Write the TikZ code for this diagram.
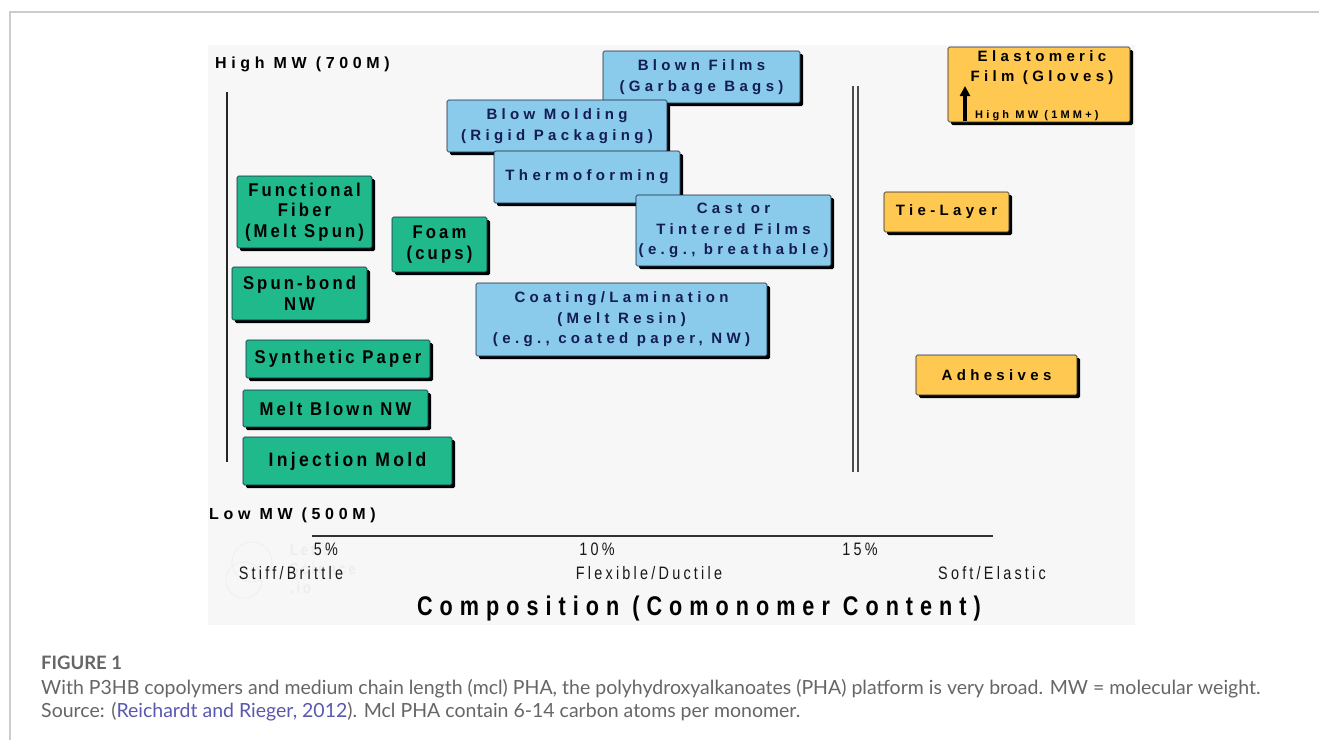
\documentclass[tikz,border=0pt]{standalone}
\usepackage{fontspec}
\setmainfont{Liberation Sans}
\newfontfamily\boxf[LetterSpace=29]{Liberation Sans}
\newfontfamily\gboxf[LetterSpace=17,FakeStretch=0.9]{Liberation Sans}
\newfontfamily\axf[LetterSpace=18,FakeStretch=0.8]{Liberation Sans}
\newfontfamily\compf[LetterSpace=26,FakeStretch=0.8]{Liberation Sans}
\newfontfamily\capf{Lato}
\usetikzlibrary{shadows,arrows.meta}
\definecolor{panel}{HTML}{F7F7F7}
\definecolor{gfill}{HTML}{20B98C}
\definecolor{bfill}{HTML}{8ACAEA}
\definecolor{yfill}{HTML}{FFC851}
\definecolor{edge}{HTML}{14203A}
\definecolor{navy}{HTML}{141C55}
\definecolor{capgray}{HTML}{666666}
\definecolor{linkc}{HTML}{5A58B0}
\tikzset{
  pbox/.style={draw=edge, line width=0.6pt, rounded corners=1.5pt, inner sep=0pt, align=center,
    drop shadow={shadow xshift=3pt, shadow yshift=-3pt, fill=black, opacity=1},
    font=\boxf\bfseries\fontsize{15}{20.5}\selectfont},
  gbox/.style={pbox, fill=gfill, text=black, font=\gboxf\bfseries\fontsize{18.5}{20.5}\selectfont},
  bbox/.style={pbox, fill=bfill, text=navy},
  ybox/.style={pbox, fill=yfill, text=black},
  mwlab/.style={anchor=west, inner sep=0pt, font=\boxf\bfseries\fontsize{16}{18}\selectfont},
  axlab/.style={inner sep=0pt, font=\axf\fontsize{18}{20}\selectfont, text=black!90},
  caplab/.style={anchor=base west, inner sep=0pt, text=capgray, font=\capf\fontsize{19.5}{22}\selectfont}
}
\newcommand\mybox[7]{\node[#1, minimum width={#5-#3-3}, minimum height={#6-#4-3}] (#2) at ({(#3+#5-3)/2},{(#4+#6-3)/2}) {#7};}
\begin{document}
\begin{tikzpicture}[x=1pt,y=-1pt]
\useasboundingbox (0,0) rectangle (1319,740);
\fill[white] (0,0) rectangle (1319,740);
\draw[black!20, line width=1.2pt] (10,740) -- (10,12) -- (1319,12);
\fill[panel] (208,45) rectangle (1135,625);
% watermark
\draw[black!6, line width=1pt] (252,562) circle (20) (244,580) circle (18);
\node[text=black!7, font=\axf\bfseries\fontsize{16}{19}\selectfont, align=left, inner sep=0pt, anchor=north west] (wm) at (290,544) {Let's\\Science\\.io};
% axes
\node[mwlab] (hmw) at (215,64) {High MW (700M)};
\node[mwlab] (lmw) at (209,515) {Low MW (500M)};
\coordinate (vt) at (227,92); \coordinate (vb) at (227,462);
\draw[black!85, line width=1.4pt] (vt) -- (vb);
\coordinate (d1t) at (853,86); \coordinate (d1b) at (853,472);
\coordinate (d2t) at (858,86); \coordinate (d2b) at (858,472);
\draw[black!70, line width=1.2pt] (d1t) -- (d1b) (d2t) -- (d2b);
\coordinate (hl) at (312,536); \coordinate (hr) at (993,536);
\draw[black!80, line width=2pt] (hl) -- (hr);
% green
\mybox{gbox}{ff}{237}{176}{375}{251}{Functional\\Fiber\\(Melt Spun)}
\mybox{gbox}{foam}{392}{217}{490}{275}{Foam\\(cups)}
\mybox{gbox}{spun}{232}{267}{370}{323}{Spun-bond\\NW}
\mybox{gbox}{synth}{246}{340}{433}{381}{Synthetic Paper}
\mybox{gbox}{melt}{243}{390}{431}{430}{Melt Blown NW}
\mybox{gbox}{inj}{243}{437}{455}{488}{\fontsize{19.5}{21}\selectfont Injection Mold}
% blue
\mybox{bbox}{blown}{603}{51}{803}{106}{Blown Films\\(Garbage Bags)}
\mybox{bbox}{blowm}{447}{100}{670}{155}{Blow Molding\\(Rigid Packaging)}
\mybox{bbox}{thermo}{494}{151}{683}{206}{Thermoforming}
\mybox{bbox}{cast}{636}{195}{834}{269}{Cast or\\Tintered Films\\(e.g., breathable)}
\mybox{bbox}{coat}{476}{283}{770}{359}{Coating/Lamination\\(Melt Resin)\\(e.g., coated paper, NW)}
% yellow
\mybox{ybox}{elast}{948}{47}{1133}{125}{}
\node[inner sep=0pt, align=center, font=\boxf\bfseries\fontsize{15}{20}\selectfont] (elt) at (1042,68) {Elastomeric\\Film (Gloves)};
\node[anchor=west, inner sep=0pt, font=\boxf\bfseries\fontsize{11}{12}\selectfont] (hmm) at (975,116) {High MW (1MM+)};
\coordinate (ab) at (965,121); \coordinate (at) at (965,86);
\draw[line width=3.5pt, -{Triangle[width=10pt,length=10pt]}] (ab) -- (at);
\mybox{ybox}{tie}{884}{192}{1012}{235}{Tie-Layer}
\mybox{ybox}{adh}{916}{355}{1080}{398}{Adhesives}
% axis labels
\node[axlab] (p5) at (326,549) {5\%};
\node[axlab] (p10) at (597,549) {10\%};
\node[axlab] (p15) at (860,549) {15\%};
\node[axlab] (sb) at (291,573) {Stiff/Brittle};
\node[axlab] (fd) at (649,573) {Flexible/Ductile};
\node[axlab] (se) at (992,573) {Soft/Elastic};
\node[inner sep=0pt, font=\compf\bfseries\fontsize{27}{29}\selectfont] (comp) at (699,609) {Composition (Comonomer Content)};
% caption
\node[caplab, font=\capf\bfseries\fontsize{18.5}{22}\selectfont] (fig) at (41,669) {FIGURE 1};
\node[caplab] (c1) at (41,694) {With P3HB copolymers and medium chain length (mcl) PHA, the polyhydroxyalkanoates (PHA) platform is very broad. MW = molecular weight.};
\node[caplab] (c2) at (41,717) {Source: (\textcolor{linkc}{Reichardt and Rieger, 2012}). Mcl PHA contain 6-14 carbon atoms per monomer.};
\end{tikzpicture}
\end{document}
